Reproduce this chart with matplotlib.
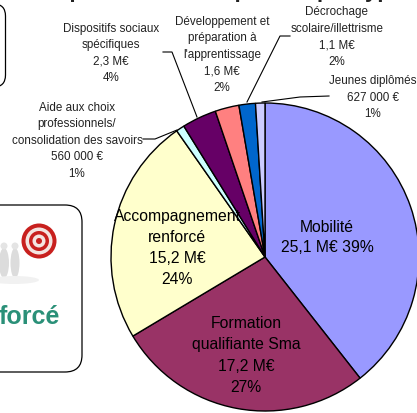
import matplotlib
matplotlib.use('Agg')
import matplotlib.pyplot as plt
from matplotlib.patches import FancyBboxPatch, Circle, Ellipse

plt.rcParams['font.family'] = ['Liberation Sans', 'DejaVu Sans']

W, H = 417, 414

names = ['Mobilité', 'Formation qualifiante Sma', 'Accompagnement renforcé',
         'Aide aux choix', 'Dispositifs sociaux', 'Développement',
         'Décrochage', 'Jeunes diplômés']
values = [25.1, 17.2, 15.2, 0.56, 2.3, 1.6, 1.1, 0.627]
colors = ['#9999ff', '#993366', '#ffffcc', '#ccffff', '#660066', '#ff8080', '#0066cc', '#ccccff']

fig = plt.figure(figsize=(W / 100, H / 100), dpi=100)
ax = fig.add_axes([0, 0, 1, 1])

# y axis is flipped (pixel coords), so counterclockwise in data looks clockwise on screen
ax.pie(values, colors=colors, center=(265, 258), radius=154, startangle=-90, counterclock=True,
       wedgeprops={'edgecolor': 'black', 'linewidth': 1.0}, frame=True)
ax.set_xlim(0, W)
ax.set_ylim(H, 0)
ax.set_aspect('auto')
ax.axis('off')

small = 8.4
big = 11.3
labels = [
    (111, 53.5, 'Dispositifs sociaux\nspécifiques\n2,3 M€\n4%'),
    (222, 55, 'Développement et\npréparation à\nl\'apprentissage\n1,6 M€\n2%'),
    (337, 37, 'Décrochage\nscolaire/illettrisme\n1,1 M€\n2%'),
    (373, 98, 'Jeunes diplômés\n627 000 €\n1%'),
    (77, 141, 'Aide aux choix\nprofessionnels/\nconsolidation des savoirs\n560 000 €\n1%'),
]
for x, y, s in labels:
    ax.text(x, y, s, ha='center', va='center', fontsize=small, color='#222222', linespacing=1.5)

ax.text(177, 248, 'Accompagnement\nrenforcé\n15,2 M€\n24%', ha='center', va='center', fontsize=big, linespacing=1.48)
ax.text(327, 237.5, 'Mobilité\n25,1 M€ 39%', ha='center', va='center', fontsize=big, linespacing=1.48)
ax.text(246, 355.5, 'Formation\nqualifiante Sma\n17,2 M€\n27%', ha='center', va='center', fontsize=big, linespacing=1.52)

# leader lines
ax.plot([163, 172, 197], [53, 53, 118], color='black', lw=0.8)
ax.plot([290, 280, 247], [37, 37, 103], color='black', lw=0.8)
ax.plot([329, 300, 262], [97, 98, 103], color='black', lw=0.8)
ax.plot([143, 155, 177], [140, 140, 131], color='black', lw=0.8)

# boxes on the left, cut by the edge of the picture
ax.add_patch(FancyBboxPatch((-30, 5), 35.5, 83, boxstyle='round,pad=0,rounding_size=12',
                            fc='white', ec='black', lw=0.9))
ax.add_patch(FancyBboxPatch((-30, 206), 112, 167, boxstyle='round,pad=0,rounding_size=17',
                            fc='white', ec='black', lw=0.9))
ax.text(60, 324, 'forcé', ha='right', va='baseline', fontsize=18, fontweight='bold', color='#2a9078')

# people and target icon
for x, w in [(4, 10), (15, 9)]:
    ax.add_patch(Ellipse((x, 264), w, 30, fc='#dcdcdc', ec='none'))
    ax.add_patch(Circle((x, 247), 3.5, fc='#e4e4e4', ec='none'))
ax.add_patch(Ellipse((14, 281), 50, 8, fc='#f1f1f1', ec='none'))
for r, c in [(17.5, '#c8201e'), (13.5, '#f4e4e0'), (10, '#c8201e'), (6.5, '#f4e4e0'), (3, '#c8201e')]:
    ax.add_patch(Circle((39, 242), r, fc=c, ec='none'))

# title above the picture, only its descenders show
ax.text(403, -2.5, 'Répartition des dépenses par type', ha='right', va='baseline', fontsize=16,
        fontweight='bold', color='#222222')

fig.savefig('out.png', dpi=100)
